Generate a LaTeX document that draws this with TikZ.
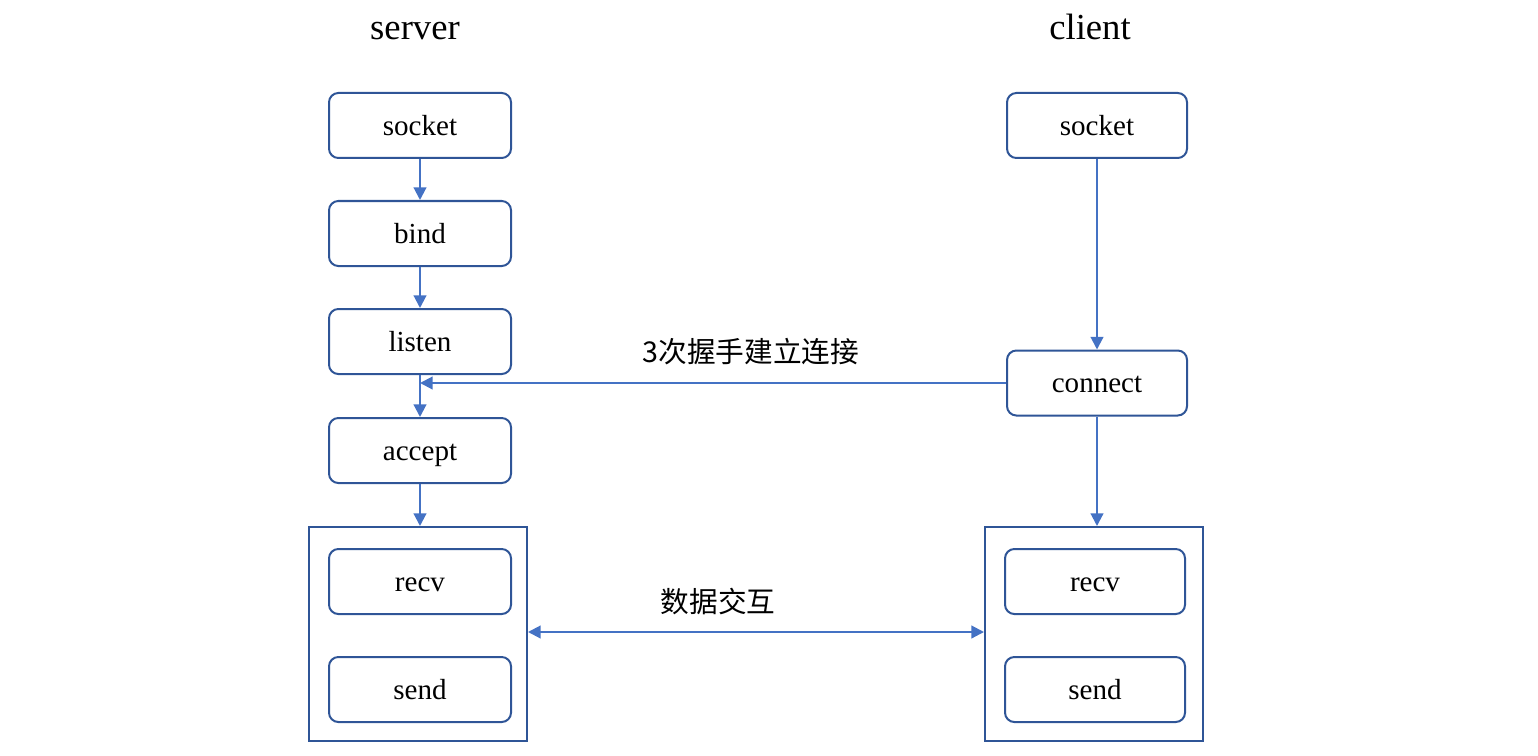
\documentclass[tikz,border=0pt]{standalone}
\usepackage{fontspec}
\setmainfont{Liberation Serif}
\newfontfamily\cjk{Noto Sans CJK SC}
\usetikzlibrary{arrows.meta}
\definecolor{boxblue}{HTML}{2F5597}
\definecolor{arrblue}{HTML}{4472C4}
\begin{document}
\begin{tikzpicture}[x=0.75pt,y=-0.75pt,
  fn/.style={draw=boxblue,line width=1.5pt,rounded corners=7pt,minimum width=136.5pt,minimum height=48.75pt,inner sep=0pt,font=\fontsize{21.8}{24}\selectfont,text height=19.5pt,text depth=4.7pt,fill=white},
  grp/.style={draw=boxblue,line width=1.5pt,inner sep=0pt},
  arr/.style={draw=arrblue,line width=1.6pt,-{Triangle[length=9.5pt,width=9.5pt]}},
  darr/.style={draw=arrblue,line width=1.6pt,{Triangle[length=9.5pt,width=9.5pt]}-{Triangle[length=9.5pt,width=9.5pt]}},
  title/.style={font=\fontsize{27.5}{30}\selectfont,anchor=base},
  lbl/.style={font=\cjk\fontsize{21.5}{26}\selectfont}]
\useasboundingbox (0,0) rectangle (1538,756);
\node[title] (ts) at (415,40) {server};
\node[title] (tc) at (1090,40) {client};
% server
\node[fn] (ssock) at (420,125.5) {socket};
\node[fn] (sbind) at (420,233.5) {bind};
\node[fn] (slist) at (420,341.5) {listen};
\node[fn] (sacc) at (420,450.5) {accept};
\node[grp,minimum width=163.5pt,minimum height=160.5pt] (sgrp) at (418,634) {};
\node[fn] (srecv) at (420,581.5) {recv};
\node[fn] (ssend) at (420,689.5) {send};
% client
\node[fn,minimum width=135pt] (csock) at (1097,125.5) {socket};
\node[fn,minimum width=135pt] (cconn) at (1097,383) {connect};
\node[grp,minimum width=163.5pt,minimum height=160.5pt] (cgrp) at (1094,634) {};
\node[fn,minimum width=135pt] (crecv) at (1095,581.5) {recv};
\node[fn,minimum width=135pt] (csend) at (1095,689.5) {send};
% arrows
\draw[arr] (ssock) -- (sbind);
\draw[arr] (sbind) -- (slist);
\draw[arr] (slist) -- (sacc);
\draw[arr] (sacc.south) -- (sgrp.north -| sacc.south);
\draw[arr] (csock) -- (cconn);
\draw[arr] (cconn) -- (cgrp.north -| cconn.south);
\coordinate (hit) at (420,383);
\draw[arr] (cconn.west) -- (hit);
\draw[darr] (sgrp.east |- 0,632) -- (cgrp.west |- 0,632);
\node[lbl] (l1) at (751,352) {3次握手建立连接};
\node[lbl] (l2) at (718,602) {数据交互};
\end{tikzpicture}
\end{document}
